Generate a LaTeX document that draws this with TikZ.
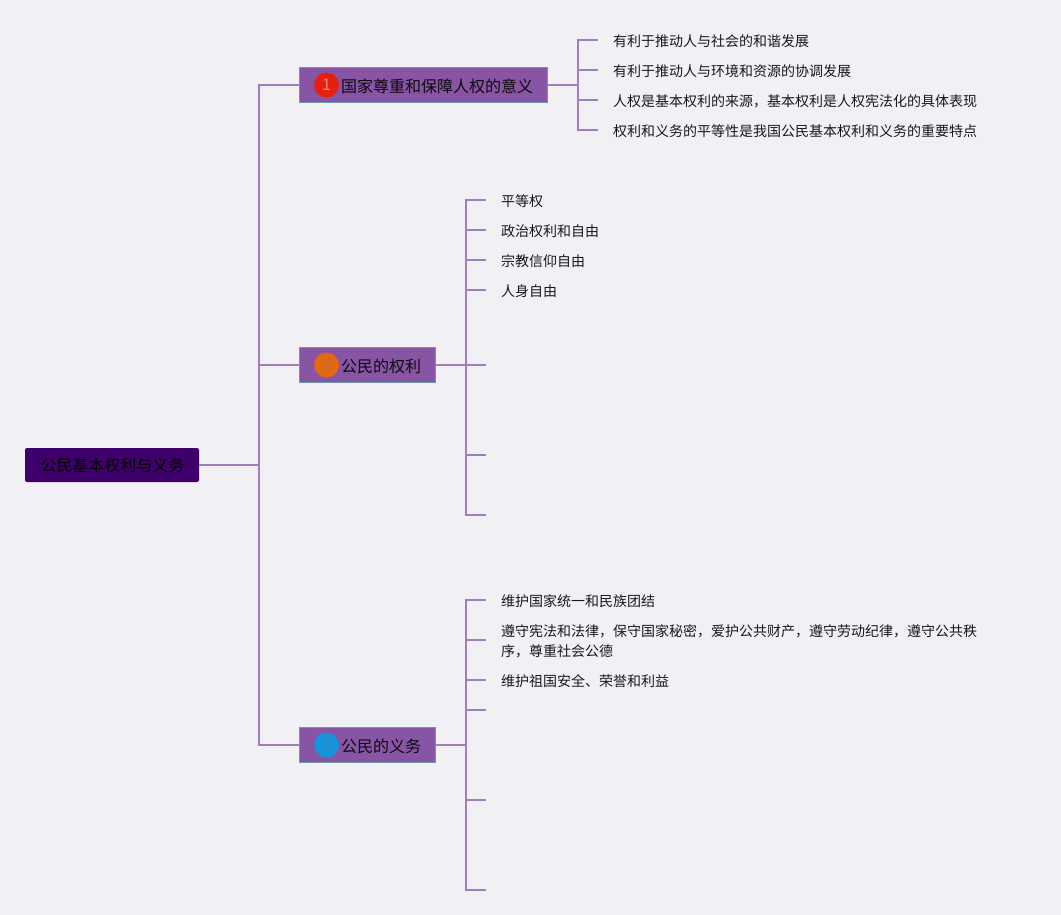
\documentclass[tikz,border=0pt]{standalone}
\usepackage{fontspec}
\setmainfont{Noto Sans CJK SC}
\definecolor{pagebg}{HTML}{F1F0F4}
\definecolor{branchline}{HTML}{A17FBF}
\definecolor{rootfill}{HTML}{40006B}
\definecolor{topicfill}{HTML}{8755A3}
\definecolor{topicedge}{HTML}{6F98A8}
\definecolor{badgered}{HTML}{E6200F}
\definecolor{badgeorange}{HTML}{E4680F}
\definecolor{badgeblue}{HTML}{1593DB}
\definecolor{digitred}{HTML}{F08A80}
\definecolor{digitorange}{HTML}{B0734A}
\definecolor{digitblue}{HTML}{4F86B8}
\tikzset{
    branch/.style={draw=branchline, line width=1.5pt},
    rootbox/.style={fill=rootfill, rounded corners=2pt, minimum width=174pt, minimum height=34pt, inner sep=0pt, font=\fontsize{16}{16}\selectfont, text=black},
    topicbox/.style={fill=topicfill, draw=topicedge, line width=1pt, minimum height=35pt, inner sep=0pt},
    topictext/.style={anchor=west, inner sep=0pt, font=\fontsize{16}{16}\selectfont, text=black!90!topicfill},
    badge/.style={circle, minimum size=25pt, inner sep=0pt, font=\fontsize{16}{16}\selectfont},
    leaf/.style={anchor=west, inner sep=0pt, align=left, font=\fontsize{14}{20}\selectfont, text=black!90},
}
\begin{document}
\begin{tikzpicture}[x=1pt, y=-1pt]
    \useasboundingbox [fill=pagebg] (0,0) rectangle (1061,915);
    % root and topics
    \node [rootbox] (root) at (112,465) {\hspace{1pt}公民基本权利与义务};
    \node [topicbox, minimum width=248pt] (t1) at (423.5,85) {};
    \node [topicbox, minimum width=136pt] (t2) at (367.5,365) {};
    \node [topicbox, minimum width=136pt] (t3) at (367.5,745) {};
    \node [badge, fill=badgered, text=digitred] (b1) at (326.5,85) {1};
    \node [badge, fill=badgeorange, text=digitorange] (b2) at (326.5,365) {2};
    \node [badge, fill=badgeblue, text=digitblue] (b3) at (326.5,745) {3};
    \node [topictext] (l1) at (341,86) {国家尊重和保障人权的意义};
    \node [topictext] (l2) at (341,366) {公民的权利};
    \node [topictext] (l3) at (341,746) {公民的义务};
    % main spine
    \coordinate (s0) at (259,465);
    \draw [branch] (root.east) -- (s0);
    \draw [branch] (s0) |- (t1.west);
    \draw [branch] (s0) |- (t3.west);
    \draw [branch] (s0 |- t2.west) -- (t2.west);
    % first topic
    \coordinate (s1) at (578,85);
    \coordinate (e11) at (598,40);
    \coordinate (e12) at (598,70);
    \coordinate (e13) at (598,100);
    \coordinate (e14) at (598,130);
    \draw [branch] (t1.east) -- (s1);
    \draw [branch] (s1) |- (e11);
    \draw [branch] (s1) |- (e14);
    \draw [branch] (s1 |- e12) -- (e12);
    \draw [branch] (s1 |- e13) -- (e13);
    \node [leaf] (n11) at (613,41) {有利于推动人与社会的和谐发展};
    \node [leaf] (n12) at (613,71) {有利于推动人与环境和资源的协调发展};
    \node [leaf] (n13) at (613,101) {人权是基本权利的来源，基本权利是人权宪法化的具体表现};
    \node [leaf] (n14) at (613,131) {权利和义务的平等性是我国公民基本权利和义务的重要特点};
    % second topic
    \coordinate (s2) at (466,365);
    \coordinate (e21) at (486,200);
    \coordinate (e22) at (486,230);
    \coordinate (e23) at (486,260);
    \coordinate (e24) at (486,290);
    \coordinate (e25) at (486,365);
    \coordinate (e26) at (486,455);
    \coordinate (e27) at (486,515);
    \draw [branch] (t2.east) -- (e25);
    \draw [branch] (s2) |- (e21);
    \draw [branch] (s2) |- (e27);
    \draw [branch] (s2 |- e22) -- (e22);
    \draw [branch] (s2 |- e23) -- (e23);
    \draw [branch] (s2 |- e24) -- (e24);
    \draw [branch] (s2 |- e26) -- (e26);
    \node [leaf] (n21) at (501,201) {平等权};
    \node [leaf] (n22) at (501,231) {政治权利和自由};
    \node [leaf] (n23) at (501,261) {宗教信仰自由};
    \node [leaf] (n24) at (501,291) {人身自由};
    % third topic
    \coordinate (s3) at (466,745);
    \coordinate (e31) at (486,600);
    \coordinate (e32) at (486,640);
    \coordinate (e33) at (486,680);
    \coordinate (e34) at (486,710);
    \coordinate (e35) at (486,800);
    \coordinate (e36) at (486,890);
    \draw [branch] (t3.east) -- (s3);
    \draw [branch] (s3) |- (e31);
    \draw [branch] (s3) |- (e36);
    \draw [branch] (s3 |- e32) -- (e32);
    \draw [branch] (s3 |- e33) -- (e33);
    \draw [branch] (s3 |- e34) -- (e34);
    \draw [branch] (s3 |- e35) -- (e35);
    \node [leaf] (n31) at (501,601) {维护国家统一和民族团结};
    \node [leaf] (n32) at (501,641) {遵守宪法和法律，保守国家秘密，爱护公共财产，遵守劳动纪律，遵守公共秩\\序，尊重社会公德};
    \node [leaf] (n33) at (501,681) {维护祖国安全、荣誉和利益};
\end{tikzpicture}
\end{document}
